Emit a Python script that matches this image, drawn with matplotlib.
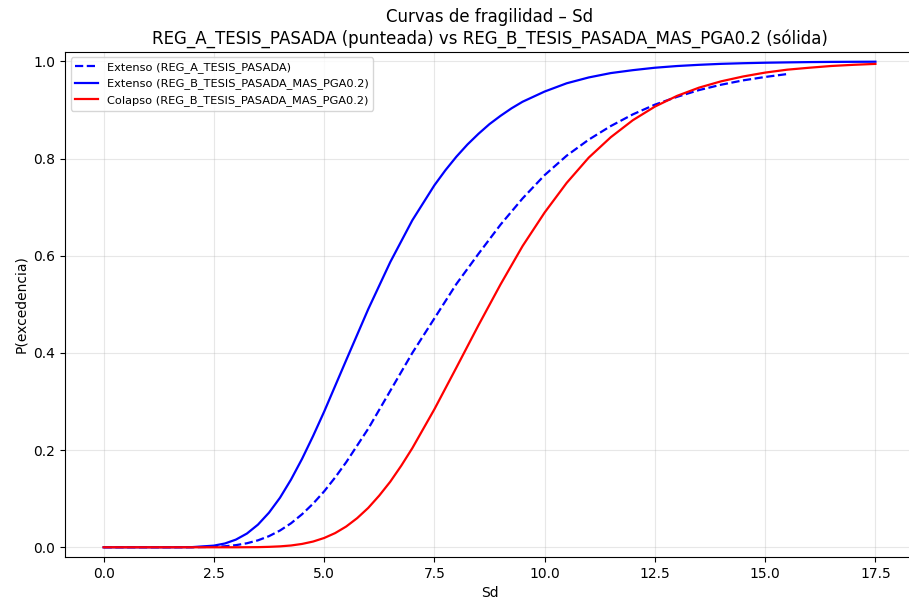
import matplotlib
matplotlib.use("Agg")
import matplotlib.pyplot as plt

# Extenso REG_A (dashed) - curve stops around Sd = 15.5
sd_ext_a = [0.0, 0.5, 1.0, 1.5, 2.0, 2.5, 2.75, 3.0, 3.25, 3.5, 3.75, 4.0, 4.25, 4.5,
            4.75, 5.0, 5.25, 5.5, 6.0, 6.5, 7.0, 7.5, 8.0, 8.5, 9.0, 9.5, 10.0, 10.5,
            11.0, 11.5, 12.0, 12.5, 13.0, 13.5, 14.0, 14.5, 15.0, 15.5]
p_ext_a = [0.0, 0.0, 0.0, 0.0, 0.0001, 0.0009, 0.0021, 0.0044, 0.0083, 0.0143, 0.0229,
           0.0345, 0.0494, 0.068, 0.0898, 0.115, 0.1437, 0.175, 0.244, 0.322, 0.40,
           0.471, 0.542, 0.604, 0.664, 0.718, 0.766, 0.806, 0.839, 0.867, 0.891, 0.911,
           0.927, 0.941, 0.952, 0.961, 0.968, 0.974]

# Extenso REG_B (solid blue)
sd_ext_b = [0.0, 0.5, 1.0, 1.5, 2.0, 2.5, 2.75, 3.0, 3.25, 3.5, 3.75, 4.0, 4.25, 4.5,
            4.75, 5.0, 5.25, 5.5, 6.0, 6.5, 7.0, 7.5, 7.75, 8.0, 8.25, 8.5, 8.75, 9.0,
            9.25, 9.5, 10.0, 10.5, 11.0, 11.5, 12.0, 12.5, 13.0, 13.5, 14.0, 14.5,
            15.0, 15.5, 16.0, 16.5, 17.0, 17.5]
p_ext_b = [0.0, 0.0, 0.0, 0.0, 0.0003, 0.0034, 0.0078, 0.0158, 0.0283, 0.0466, 0.0712,
           0.102, 0.1394, 0.182, 0.229, 0.279, 0.332, 0.385, 0.490, 0.587, 0.673, 0.745,
           0.776, 0.804, 0.829, 0.851, 0.871, 0.888, 0.9035, 0.917, 0.938, 0.955, 0.967,
           0.976, 0.982, 0.987, 0.9905, 0.993, 0.995, 0.9963, 0.9973, 0.998, 0.9986,
           0.999, 0.9992, 0.9994]

# Colapso REG_B (solid red)
sd_col_b = [0.0, 0.5, 1.0, 1.5, 2.0, 2.5, 3.0, 3.5, 3.75, 4.0, 4.25, 4.5, 4.75, 5.0,
            5.25, 5.5, 5.75, 6.0, 6.25, 6.5, 6.75, 7.0, 7.5, 8.0, 8.5, 9.0, 9.5, 10.0,
            10.5, 11.0, 11.5, 12.0, 12.5, 13.0, 13.5, 14.0, 14.5, 15.0, 15.5, 16.0,
            16.5, 17.0, 17.5]
p_col_b = [0.0, 0.0, 0.0, 0.0, 0.0, 0.0, 0.0, 0.0003, 0.0009, 0.0019, 0.0037, 0.0069,
           0.0118, 0.0191, 0.0292, 0.0427, 0.060, 0.081, 0.1064, 0.135, 0.168, 0.204,
           0.284, 0.370, 0.457, 0.541, 0.620, 0.689, 0.750, 0.802, 0.844, 0.879, 0.907,
           0.929, 0.946, 0.959, 0.969, 0.977, 0.983, 0.987, 0.9906, 0.993, 0.9949]

fig = plt.figure(figsize=(9.09, 6.0), dpi=100)
ax = fig.add_axes([65 / 909, 1 - 557 / 600, (914 - 65) / 909, (557 - 51.7) / 600])

ax.plot(sd_ext_a, p_ext_a, '--', color='blue', lw=1.6,
        label='Extenso (REG_A_TESIS_PASADA)')
ax.plot(sd_ext_b, p_ext_b, '-', color='blue', lw=1.6,
        label='Extenso (REG_B_TESIS_PASADA_MAS_PGA0.2)')
ax.plot(sd_col_b, p_col_b, '-', color='red', lw=1.6,
        label='Colapso (REG_B_TESIS_PASADA_MAS_PGA0.2)')

ax.set_ylim(-0.02, 1.02)
ax.set_xlabel('Sd')
ax.set_ylabel('P(excedencia)')
ax.set_title('Curvas de fragilidad – Sd\n'
             'REG_A_TESIS_PASADA (punteada) vs REG_B_TESIS_PASADA_MAS_PGA0.2 (sólida)')
ax.grid(True, alpha=0.3)
ax.legend(loc='upper left', fontsize=8.2)

fig.savefig('out.png', dpi=100)
